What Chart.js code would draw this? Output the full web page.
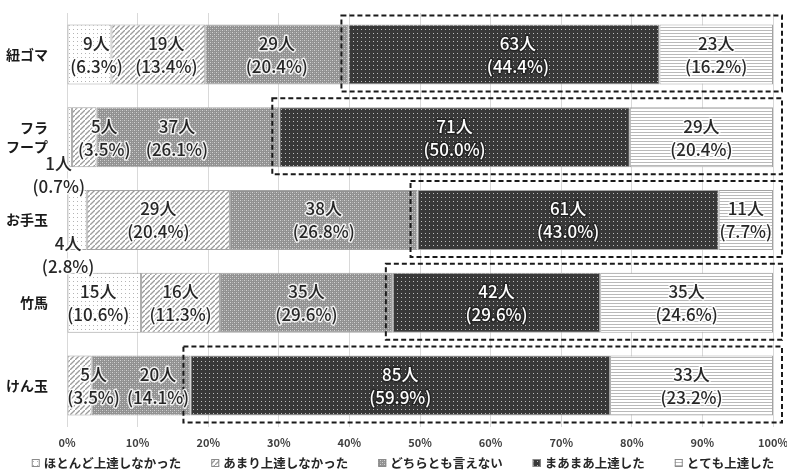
<!DOCTYPE html>
<html>
<head>
<meta charset="utf-8">
<title>上達度</title>
<style>
  body { margin: 0; background: #fff; }
  #wrap { width: 787px; height: 470px; position: relative; }
</style>
</head>
<body>
<div id="wrap"><canvas id="chart"></canvas></div>
<script src="https://cdn.jsdelivr.net/npm/chart.js@4.4.1/dist/chart.umd.min.js"></script>
<script>
// categories (top to bottom)
var categories = ['紐ゴマ', ['フラ', 'フープ'], 'お手玉', '竹馬', 'けん玉'];
var seriesNames = ['ほとんど上達しなかった', 'あまり上達しなかった', 'どちらとも言えない', 'まあまあ上達した', 'とても上達した'];

// counts per series (人)
var hotondo = [9, 1, 4, 15, 0];
var amari   = [19, 5, 29, 16, 5];
var dochira = [29, 37, 38, 35, 20];
var maamaa  = [63, 71, 61, 42, 85];
var totemo  = [23, 29, 11, 35, 33];

// percent labels as printed
var hotondoPct = ['6.3%', '0.7%', '2.8%', '10.6%', ''];
var amariPct   = ['13.4%', '3.5%', '20.4%', '11.3%', '3.5%'];
var dochiraPct = ['20.4%', '26.1%', '26.8%', '29.6%', '14.1%'];
var maamaaPct  = ['44.4%', '50.0%', '43.0%', '29.6%', '59.9%'];
var totemoPct  = ['16.2%', '20.4%', '7.7%', '24.6%', '23.2%'];

var xTicks = [0, 10, 20, 30, 40, 50, 60, 70, 80, 90, 100];

var counts = [hotondo, amari, dochira, maamaa, totemo];
var pcts = [hotondoPct, amariPct, dochiraPct, maamaaPct, totemoPct];

// 100% stacked: share of each row
var rowTotals = categories.map(function (c, i) {
  return counts.reduce(function (s, arr) { return s + arr[i]; }, 0);
});
function share(arr) {
  return arr.map(function (v, i) { return v / rowTotals[i] * 100; });
}

// small fill patterns
function pattern(size, bg, draw) {
  var c = document.createElement('canvas');
  c.width = size; c.height = size;
  var g = c.getContext('2d');
  g.fillStyle = bg; g.fillRect(0, 0, size, size);
  draw(g);
  return document.getElementById('chart').getContext('2d').createPattern(c, 'repeat');
}
var fills = [
  pattern(4, '#ffffff', function (g) { g.fillStyle = '#b4b4b4'; g.fillRect(1, 1, 1, 1); }),
  pattern(5, '#ffffff', function (g) {
    g.strokeStyle = '#9c9c9c'; g.lineWidth = 1.3;
    g.beginPath(); g.moveTo(-1, 6); g.lineTo(6, -1); g.stroke();
  }),
  pattern(4, '#919191', function (g) {
    g.fillStyle = '#d2d2d2'; g.fillRect(0, 0, 1, 1); g.fillRect(2, 2, 1, 1);
    g.fillStyle = '#acacac'; g.fillRect(2, 0, 1, 1); g.fillRect(0, 2, 1, 1);
  }),
  pattern(4, '#383838', function (g) { g.fillStyle = '#bdbdbd'; g.fillRect(1, 1, 1, 1); }),
  pattern(3, '#ffffff', function (g) { g.fillStyle = '#b9b9b9'; g.fillRect(0, 0, 3, 1); })
];
var textColors = ['#262626', '#262626', '#262626', '#ffffff', '#262626'];

// label nudges where the original labels sit off-centre ('series,row')
var labelShift = {
  '0,0': [7, 0], '1,0': [8, 0], '3,0': [14, 0],
  '0,1': [-11, 37], '1,1': [20, 0], '2,1': [-11, 0],
  '0,2': [-9, 35],
  '0,3': [-6, 0],
  '1,4': [14, 0], '2,4': [17, 0]
};

var datasets = seriesNames.map(function (name, d) {
  return {
    label: name,
    data: share(counts[d]),
    backgroundColor: fills[d],
    borderColor: '#a3a3a3',
    borderWidth: 1,
    borderSkipped: false,
    barPercentage: 0.725,
    categoryPercentage: 1
  };
});

var FONT = "'Noto Sans CJK JP', 'Noto Sans', sans-serif";

var overlay = {
  id: 'overlay',
  afterDatasetsDraw: function (chart) {
    var ctx = chart.ctx;
    // dashed boxes around the two upper answers
    var m3 = chart.getDatasetMeta(3);
    ctx.save();
    ctx.strokeStyle = '#1a1a1a';
    ctx.lineWidth = 2;
    ctx.setLineDash([5, 3]);
    m3.data.forEach(function (bar) {
      var top = bar.y - bar.height / 2 - 9;
      var bottom = bar.y + bar.height / 2 + 7;
      var left = bar.base - 7;
      ctx.strokeRect(left, top, 782 - left, bottom - top);
    });
    ctx.restore();

    // data labels
    ctx.save();
    ctx.font = '500 17px ' + FONT;
    ctx.textAlign = 'center';
    ctx.textBaseline = 'middle';
    ctx.lineJoin = 'round';
    counts.forEach(function (arr, d) {
      var meta = chart.getDatasetMeta(d);
      meta.data.forEach(function (bar, i) {
        if (!arr[i]) return;
        var sh = labelShift[d + ',' + i] || [0, 0];
        var cx = (bar.base + bar.x) / 2 + sh[0];
        var cy = bar.y + sh[1];
        var lines = [arr[i] + '人', '(' + pcts[d][i] + ')'];
        var ys = [cy - 11, cy + 12];
        lines.forEach(function (t, k) {
          ctx.strokeStyle = textColors[d] === '#ffffff' ? 'rgba(30,30,30,0.8)' : 'rgba(255,255,255,0.85)';
          ctx.lineWidth = 3;
          ctx.strokeText(t, cx, ys[k]);
          ctx.fillStyle = textColors[d];
          ctx.fillText(t, cx, ys[k]);
        });
      });
    });
    ctx.restore();
  },
  afterDraw: function (chart) {
    // legend row along the bottom
    var ctx = chart.ctx;
    ctx.save();
    ctx.font = 'bold 12.5px ' + FONT;
    ctx.textBaseline = 'middle';
    var box = 8, gapIn = 4, gapOut = 30;
    var widths = seriesNames.map(function (n) { return ctx.measureText(n).width; });
    var total = widths.reduce(function (s, w) { return s + box + gapIn + w; }, 0) + gapOut * (seriesNames.length - 1);
    var x = 403 - total / 2;
    var y = 463;
    seriesNames.forEach(function (n, d) {
      ctx.fillStyle = fills[d];
      ctx.fillRect(x, y - box / 2, box, box);
      ctx.strokeStyle = '#8a8a8a';
      ctx.lineWidth = 1;
      ctx.strokeRect(x + 0.5, y - box / 2 + 0.5, box - 1, box - 1);
      ctx.fillStyle = '#262626';
      ctx.fillText(n, x + box + gapIn, y);
      x += box + gapIn + widths[d] + gapOut;
    });
    ctx.restore();
  }
};

function noEdgePadding(scale) {
  scale.paddingTop = 0;
  scale.paddingBottom = 0;
  scale.paddingLeft = 0;
  scale.paddingRight = 0;
}

new Chart(document.getElementById('chart'), {
  type: 'bar',
  data: { labels: categories, datasets: datasets },
  plugins: [overlay],
  options: {
    indexAxis: 'y',
    responsive: true,
    maintainAspectRatio: false,
    animation: false,
    layout: { padding: { left: 0, right: 14, top: 13, bottom: 21 } },
    plugins: { legend: { display: false }, tooltip: { enabled: false } },
    scales: {
      x: {
        stacked: true,
        min: 0,
        max: 100,
        afterBuildTicks: function (scale) {
          scale.ticks = xTicks.map(function (v) { return { value: v }; });
        },
        grid: { color: '#d9d9d9', drawTicks: false },
        border: { display: false },
        ticks: {
          padding: 9,
          color: '#404040',
          font: { family: FONT, size: 11, weight: 'bold' },
          callback: function (v) { return v + '%'; }
        },
        afterFit: function (scale) { scale.height = 22; noEdgePadding(scale); }
      },
      y: {
        stacked: true,
        grid: { display: false },
        border: { display: false },
        ticks: {
          padding: 11,
          color: '#1a1a1a',
          font: { family: FONT, size: 14, weight: 'bold', lineHeight: 1.3 }
        },
        afterFit: function (scale) { scale.width = 67; noEdgePadding(scale); }
      }
    }
  }
});
</script>
</body>
</html>
